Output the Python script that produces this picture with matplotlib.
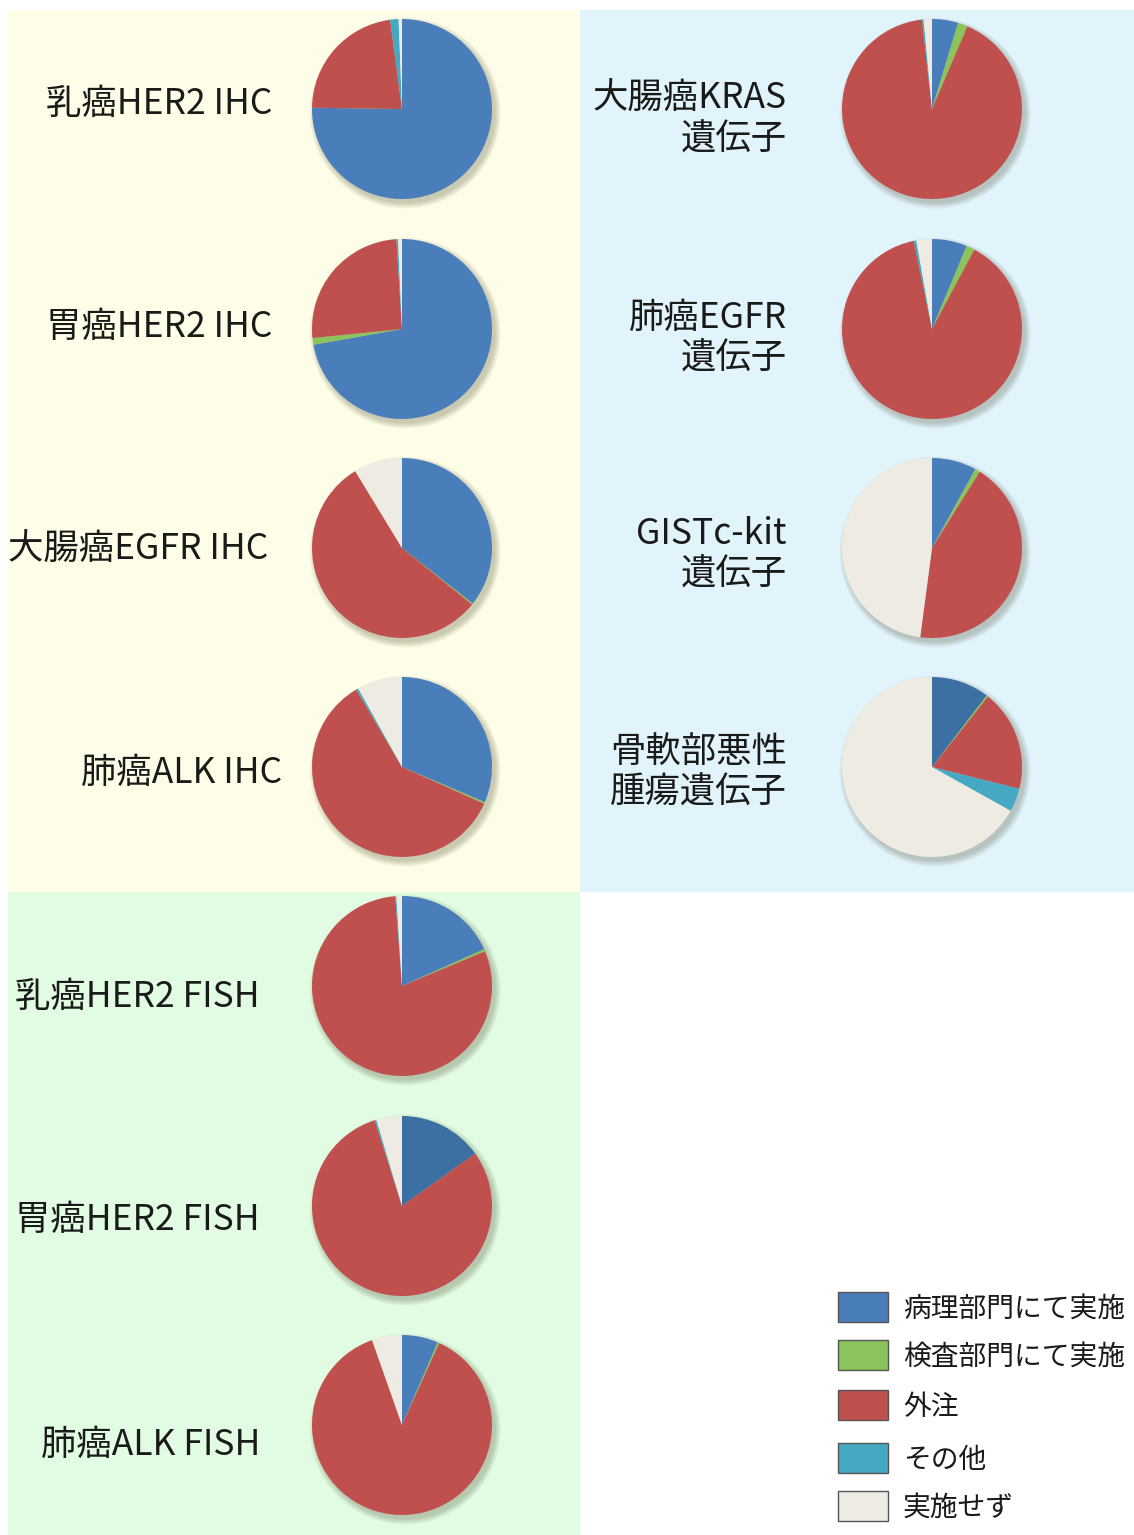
import matplotlib
matplotlib.use("Agg")
import matplotlib.pyplot as plt
from matplotlib.patches import Rectangle, Circle

plt.rcParams['font.family'] = ['Noto Sans CJK JP', 'DejaVu Sans']

# ---- data ----
series_names = ["病理部門にて実施", "検査部門にて実施", "外注", "その他", "実施せず"]
pie_labels = ["乳癌HER2 IHC", "胃癌HER2 IHC", "大腸癌EGFR IHC", "肺癌ALK IHC",
              "大腸癌KRAS\n遺伝子", "肺癌EGFR\n遺伝子", "GISTc-kit\n遺伝子", "骨軟部悪性\n腫瘍遺伝子",
              "乳癌HER2 FISH", "胃癌HER2 FISH", "肺癌ALK FISH"]
pathology = [75.0, 72.2, 35.6, 31.4, 4.7, 6.3, 8.0, 10.4, 18.3, 15.1, 6.5]
laboratory = [0.0, 1.2, 0.2, 0.3, 1.75, 1.5, 0.9, 0.3, 0.4, 0.0, 0.3]
outsourced = [22.6, 25.6, 55.5, 59.8, 91.75, 88.9, 43.2, 18.2, 80.1, 80.0, 87.8]
other = [1.5, 0.3, 0.0, 0.4, 0.3, 0.45, 0.0, 4.2, 0.2, 0.3, 0.0]
not_done = [0.6, 0.7, 8.7, 8.1, 1.5, 2.8, 47.9, 66.9, 1.0, 4.6, 5.4]

# ---- styles ----
W, H = 1134, 1535
colors = ["#4A7EBB", "#8CC35A", "#C0504D", "#45A9C4", "#EEECE2"]
dark_blue = "#3D70A2"
dark_blue_idx = {9, 7}

fig = plt.figure(figsize=(W / 100, H / 100), dpi=100)
fig.patch.set_facecolor("white")

def px_rect(x0, y0, x1, y1, color, z=-5):
    fig.patches.append(Rectangle((x0 / W, 1 - y1 / H), (x1 - x0) / W, (y1 - y0) / H,
                                 transform=fig.transFigure, facecolor=color,
                                 edgecolor="none", zorder=z))

px_rect(8, 10, 580, 892, "#FEFEE8")
px_rect(580, 10, 1134, 892, "#E1F4FC")
px_rect(8, 892, 580, 1535, "#E1FCE3")

R = 90
row_y = [109, 329, 548, 767, 986, 1206, 1425]
centers = [(402, row_y[0]), (402, row_y[1]), (402, row_y[2]), (402, row_y[3]),
           (932, row_y[0]), (932, row_y[1]), (932, row_y[2]), (932, row_y[3]),
           (402, row_y[4]), (402, row_y[5]), (402, row_y[6])]
label_pos = [(272, 104), (272, 327), (268, 550), (282, 773),
             (787, 119), (787, 338), (787, 554), (787, 772),
             (260, 997), (260, 1220), (260, 1445)]

half = 110
lim = half / R
for i, (cx, cy) in enumerate(centers):
    ax = fig.add_axes([(cx - half) / W, 1 - (cy + half) / H, 2 * half / W, 2 * half / H])
    ax.set_zorder(2)
    ax.set_xlim(-lim, lim)
    ax.set_ylim(-lim, lim)
    ax.set_aspect("equal")
    ax.axis("off")
    ax.patch.set_alpha(0)
    # soft shadow
    for k in range(6):
        ax.add_patch(Circle((0.035, -0.045), 1.0 + 0.012 * k, facecolor="#5a5a40",
                            edgecolor="none", alpha=0.06, zorder=1))
    vals = [pathology[i], laboratory[i], outsourced[i], other[i], not_done[i]]
    cols = list(colors)
    if i in dark_blue_idx:
        cols[0] = dark_blue
    ax.pie(vals, colors=cols, startangle=90, counterclock=False, radius=1.0,
           wedgeprops=dict(edgecolor="none", zorder=2), normalize=True)
    ax.set_xlim(-lim, lim)
    ax.set_ylim(-lim, lim)
    lx, ly = label_pos[i]
    fig.text(lx / W, 1 - ly / H, pie_labels[i], ha="right", va="center",
             multialignment="right", fontsize=25.5, color="#1a1a1a", linespacing=1.16)

# ---- legend ----
leg_y = [1307, 1355, 1405, 1458, 1506]
for name, col, y in zip(series_names, colors, leg_y):
    px_rect(838, y - 15, 888, y + 15, col, z=1)
    fig.patches.append(Rectangle((838 / W, 1 - (y + 15) / H), 50 / W, 30 / H,
                                 transform=fig.transFigure, facecolor="none",
                                 edgecolor="#555555", linewidth=1.0, zorder=1.5))
    fig.text(903 / W, 1 - (y + 2) / H, name, ha="left", va="center", fontsize=20, color="#1a1a1a")

fig.savefig("out.png", dpi=100, facecolor="white")
